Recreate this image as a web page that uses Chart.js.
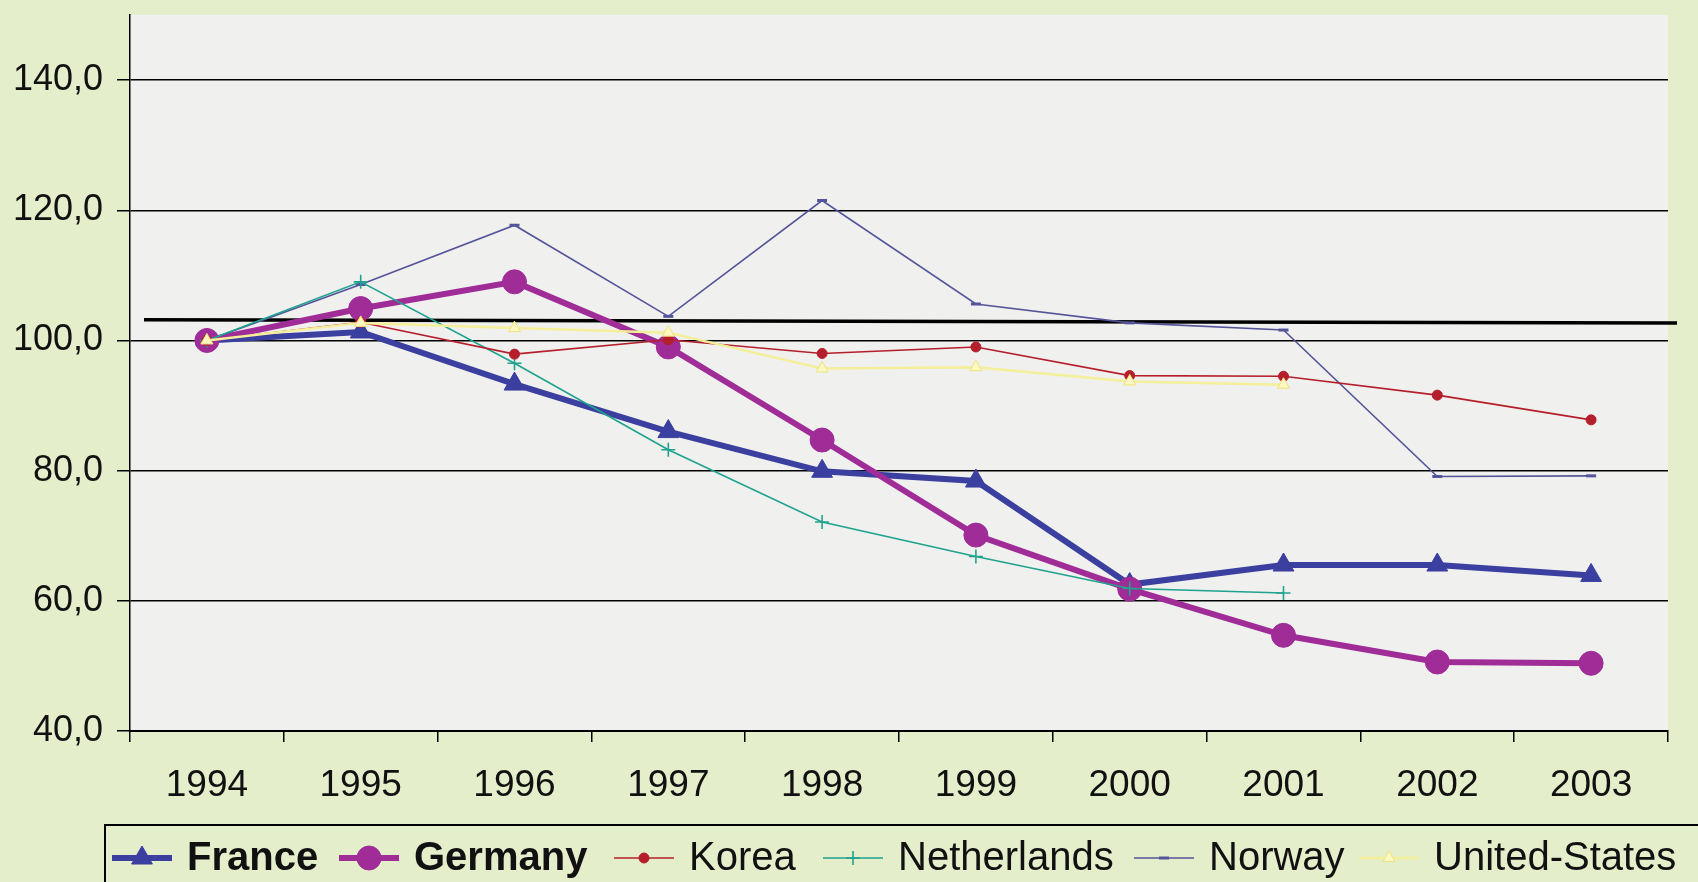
<!DOCTYPE html>
<html>
<head>
<meta charset="utf-8">
<script src="https://cdn.jsdelivr.net/npm/chart.js@4/dist/chart.umd.min.js"></script>
<style>
  html, body { margin: 0; padding: 0; background: #e5eecb; }
  #wrap { width: 1698px; height: 882px; position: relative; }
</style>
</head>
<body>
<div id="wrap"><canvas id="chart"></canvas></div>
<script>
// values (index 1994 = 100)
const years = ["1994", "1995", "1996", "1997", "1998", "1999", "2000", "2001", "2002", "2003"];
const france = [100, 101.3, 93.3, 86.0, 79.9, 78.4, 62.5, 65.5, 65.5, 63.9];
const germany = [100, 104.9, 109.0, 99.0, 84.7, 70.1, 61.8, 54.7, 50.6, 50.4];
const korea = [100, 102.8, 97.9, 100.1, 98.0, 99.0, 94.6, 94.5, 91.6, 87.8];
const netherlands = [100, 109.0, 96.5, 83.2, 72.1, 66.8, 61.9, 61.2, null, null];
const norway = [100, 108.6, 117.7, 103.7, 121.5, 105.6, 102.7, 101.6, 79.1, 79.2];
const unitedStates = [100, 102.7, 101.9, 101.2, 95.7, 95.9, 93.7, 93.2, null, null];
// thick black reference line, value at its left and right end
const refLine = [103.2, 102.7];
const yTicks = [40, 60, 80, 100, 120, 140];

const OUTER_BG = "#e5eecb";
const PLOT_BG = "#f0f0ee";
const FONT = "'Liberation Sans', Arial, sans-serif";

function series(label, data, color, opts) {
  return Object.assign({
    label: label,
    data: data,
    borderColor: color,
    backgroundColor: color,
    pointBackgroundColor: color,
    pointBorderColor: color,
    borderWidth: 1.6,
    pointBorderWidth: 1,
    tension: 0,
    spanGaps: false,
  }, opts);
}

const datasets = [
  series("France", france, "#3a3fa0", { borderWidth: 6, pointStyle: "triangle", pointRadius: 12, order: 5, bold: true }),
  series("Germany", germany, "#a02c98", { borderWidth: 6, pointStyle: "circle", pointRadius: 12, order: 4, bold: true }),
  series("Korea", korea, "#b51f2b", { pointStyle: "circle", pointRadius: 5, order: 1 }),
  series("Netherlands", netherlands, "#1fa38e", { pointStyle: "cross", pointRadius: 7, pointBorderWidth: 1.6, order: 2 }),
  series("Norway", norway, "#54549a", { pointStyle: "line", pointRadius: 5, pointBorderWidth: 3, order: 3 }),
  series("United-States", unitedStates, "#f4ef98", { borderWidth: 2.5, pointStyle: "triangle", pointRadius: 7,
    pointBackgroundColor: "#fbf8c4", pointBorderColor: "#efe37a", order: 0 }),
];

const backgroundPlugin = {
  id: "backgrounds",
  beforeDraw(chart) {
    const { ctx, chartArea: a } = chart;
    ctx.save();
    ctx.fillStyle = OUTER_BG;
    ctx.fillRect(0, 0, chart.width, chart.height);
    ctx.fillStyle = PLOT_BG;
    ctx.fillRect(a.left, a.top, a.right - a.left, a.bottom - a.top);
    ctx.restore();
  },
};

const refLinePlugin = {
  id: "refLine",
  beforeDatasetsDraw(chart) {
    const { ctx, chartArea: a, scales } = chart;
    ctx.save();
    ctx.strokeStyle = "#000";
    ctx.lineWidth = 3.5;
    ctx.beginPath();
    ctx.moveTo(a.left + 14, scales.y.getPixelForValue(refLine[0]));
    ctx.lineTo(a.right + 9, scales.y.getPixelForValue(refLine[1]));
    ctx.stroke();
    ctx.restore();
  },
};

// legend drawn by hand: two bold entries, box running off the picture
const legendX = [112, 339, 614, 823, 1134, 1359];
const legendPlugin = {
  id: "customLegend",
  afterDraw(chart) {
    const ctx = chart.ctx;
    const boxTop = 825, cy = 858;
    ctx.save();
    ctx.strokeStyle = "#000";
    ctx.lineWidth = 2;
    ctx.beginPath();
    ctx.moveTo(105, chart.height + 2);
    ctx.lineTo(105, boxTop);
    ctx.lineTo(chart.width + 2, boxTop);
    ctx.stroke();

    chart.data.datasets.forEach((ds, i) => {
      const x0 = legendX[i];
      ctx.strokeStyle = ds.borderColor;
      ctx.lineWidth = ds.borderWidth;
      ctx.beginPath();
      ctx.moveTo(x0, cy);
      ctx.lineTo(x0 + 60, cy);
      ctx.stroke();
      ctx.fillStyle = ds.pointBackgroundColor;
      ctx.strokeStyle = ds.pointBorderColor;
      ctx.lineWidth = ds.pointBorderWidth;
      Chart.helpers.drawPoint(ctx, {
        pointStyle: ds.pointStyle,
        radius: ds.pointRadius,
        rotation: 0,
        borderWidth: ds.pointBorderWidth,
      }, x0 + 30, cy);
      ctx.fillStyle = "#111";
      ctx.font = (ds.bold ? "bold " : "") + "40px " + FONT;
      ctx.textBaseline = "middle";
      ctx.textAlign = "left";
      ctx.fillText(ds.label, x0 + 75, cy + 1);
    });
    ctx.restore();
  },
};

new Chart(document.getElementById("chart"), {
  type: "line",
  data: { labels: years, datasets: datasets },
  plugins: [backgroundPlugin, refLinePlugin, legendPlugin],
  options: {
    responsive: true,
    maintainAspectRatio: false,
    devicePixelRatio: 1,
    animation: false,
    layout: { padding: { top: 15, right: 30, bottom: 71, left: 0 } },
    plugins: { legend: { display: false }, tooltip: { enabled: false } },
    scales: {
      x: {
        type: "category",
        offset: true,
        afterFit(s) { s.height = 80; s.paddingLeft = 0; s.paddingRight = 0; },
        grid: { offset: true, drawOnChartArea: false, tickLength: 11, color: "#000", lineWidth: 1.5 },
        border: { display: true, color: "#000", width: 2 },
        ticks: { font: { family: FONT, size: 37 }, color: "#111", padding: 22, maxRotation: 0 },
      },
      y: {
        min: 40,
        max: 150,
        afterFit(s) { s.width = 130; s.paddingTop = 0; s.paddingBottom = 0; },
        afterBuildTicks(s) { s.ticks = yTicks.map(v => ({ value: v })); },
        grid: { color: "#000", lineWidth: 1.5, tickLength: 13 },
        border: { display: true, color: "#000", width: 1.5 },
        ticks: {
          font: { family: FONT, size: 36 },
          color: "#111",
          padding: 14,
          callback: v => v.toFixed(1).replace(".", ","),
        },
      },
    },
  },
});
</script>
</body>
</html>
